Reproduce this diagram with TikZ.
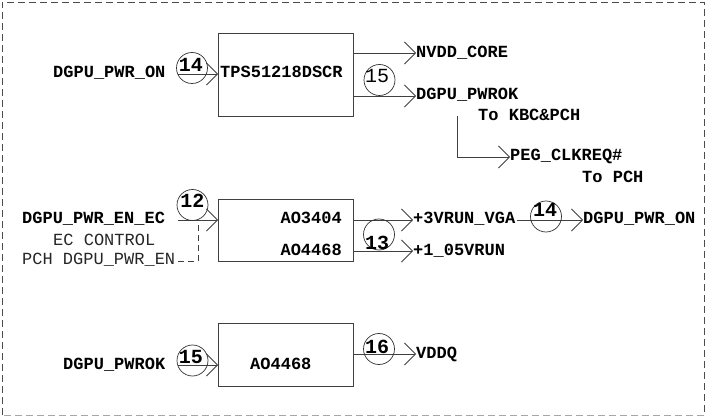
\documentclass[tikz,border=0pt]{standalone}
\usepackage{fontspec}
\setmainfont{Liberation Mono}
\usetikzlibrary{arrows.meta}
\newcommand\lblfont{\fontsize{17}{17}\selectfont\bfseries}
\newcommand\regfont{\fontsize{17}{17}\selectfont}
\newcommand\numfont{\fontsize{20}{20}\selectfont\bfseries}
\newcommand\numregfont{\fontsize{20}{20}\selectfont}
\begin{document}
\begin{tikzpicture}[x=1pt,y=-1pt,
  box/.style={draw=black!75, line width=0.8pt, inner sep=0, anchor=north west, minimum width=135pt},
  lbl/.style={anchor=base west, inner sep=0, font=\lblfont},
  lblr/.style={anchor=base east, inner sep=0, font=\lblfont},
  reg/.style={anchor=base west, inner sep=0, font=\regfont, text=black!85},
  num/.style={anchor=base, inner sep=0, font=\numfont},
  ring/.style={circle, draw=black!80, line width=0.7pt, inner sep=0, minimum size=31pt},
  sig/.style={draw=black!75, line width=0.8pt, -{Straight Barb[length=11pt,width=22pt]}},
  wire/.style={draw=black!75, line width=0.8pt},
  dwire/.style={draw=black!75, line width=0.8pt, dash pattern=on 6pt off 4pt},
  frame/.style={draw=black!70, line width=0.8pt, dash pattern=on 7pt off 4pt}]
\useasboundingbox (0,0) rectangle (713,417);
% frame
\coordinate (f1) at (2,415);
\coordinate (f2) at (2,2);
\coordinate (f3) at (704,2);
\coordinate (f4) at (704,415);
\draw[frame] (f1) -- (f2) -- (f3) -- (f4);
\draw[frame, draw=black!35] (f4) -- (f1);

% ---------- top block ----------
\node[box, minimum height=83pt] (b1) at (218,33) {};
\node[lbl] (t1) at (220,78) {TPS51218DSCR};
\node[lbl] (in1) at (53,78) {DGPU\_PWR\_ON};
\coordinate (in1s) at (178,74);
\draw[sig] (in1s) -- (in1s -| b1.west);
\node[ring] (c14a) at (192,68) {};
\node[num] (n14a) at (191,72) {14};

\coordinate (o11) at (353,53);
\coordinate (o12) at (353,96);
\node[lbl] (nvdd) at (416,58) {NVDD\_CORE};
\node[lbl] (pwrok) at (416,99.5) {DGPU\_PWROK};
\draw[sig] (o11) -- (o11 -| nvdd.west);
\draw[sig] (o12) -- (o12 -| pwrok.west);
\node[ring] (c15a) at (379.5,80) {};
\node[num, font=\numregfont] (n15a) at (377,83) {15};
\node[lbl] (kbc) at (478,121) {To KBC\&PCH};
\coordinate (lk) at (457,116);
\node[lbl] (peg) at (510,161) {PEG\_CLKREQ\#};
\coordinate (lkc) at (457,157);
\draw[sig] (lk) -- (lkc) -- (lkc -| peg.west);
\node[lbl] (tpch) at (582,183) {To PCH};

% ---------- middle block ----------
\node[box, minimum height=62pt] (b2) at (218,199) {};
\node[lblr] (a3404) at (342,224) {AO3404};
\node[lblr] (a4468a) at (342,255) {AO4468};
\node[lbl] (enec) at (22,224) {DGPU\_PWR\_EN\_EC};
\node[reg] (ecc) at (53,245) {EC CONTROL};
\node[reg] (pchen) at (22,265) {PCH DGPU\_PWR\_EN};
\coordinate (in2s) at (178,220);
\draw[sig] (in2s) -- (in2s -| b2.west);
\coordinate (dh) at (198,261);
\coordinate (dv) at (198,220);
\draw[dwire] (pchen.east |- dh) ++(3,0) -- (dh) -- (dv);
\node[ring] (c12) at (192.5,205) {};
\node[num] (n12) at (192.5,208) {12};

\coordinate (o21) at (353,220);
\coordinate (o22) at (353,251);
\node[lbl] (v3) at (413,224) {+3VRUN\_VGA};
\node[lbl] (v105) at (413,255) {+1\_05VRUN};
\draw[sig] (o21) -- (o21 -| v3.west);
\draw[sig] (o22) -- (o22 -| v105.west);
\node[lbl] (pon) at (583,224) {DGPU\_PWR\_ON};
\coordinate (v3e) at (517,220);
\draw[sig] (v3e) -- (v3e -| pon.west);
\node[ring] (c14b) at (546,216.5) {};
\node[num] (n14b) at (545,217) {14};
\node[ring] (c13) at (379,234.5) {};
\node[num] (n13) at (377,250) {13};

% ---------- bottom block ----------
\node[box, minimum height=63pt] (b3) at (218,323) {};
\node[lbl] (a4468b) at (250,369) {AO4468};
\node[lbl] (pwrok2) at (63,369) {DGPU\_PWROK};
\coordinate (in3s) at (178,365);
\draw[sig] (in3s) -- (in3s -| b3.west);
\node[ring] (c15b) at (192.5,360.5) {};
\node[num] (n15b) at (191,363) {15};
\coordinate (o31) at (353,354);
\node[lbl] (vddq) at (416,358) {VDDQ};
\draw[sig] (o31) -- (o31 -| vddq.west);
\node[ring] (c16) at (379,349) {};
\node[num] (n16) at (377,353) {16};
\end{tikzpicture}
\end{document}
